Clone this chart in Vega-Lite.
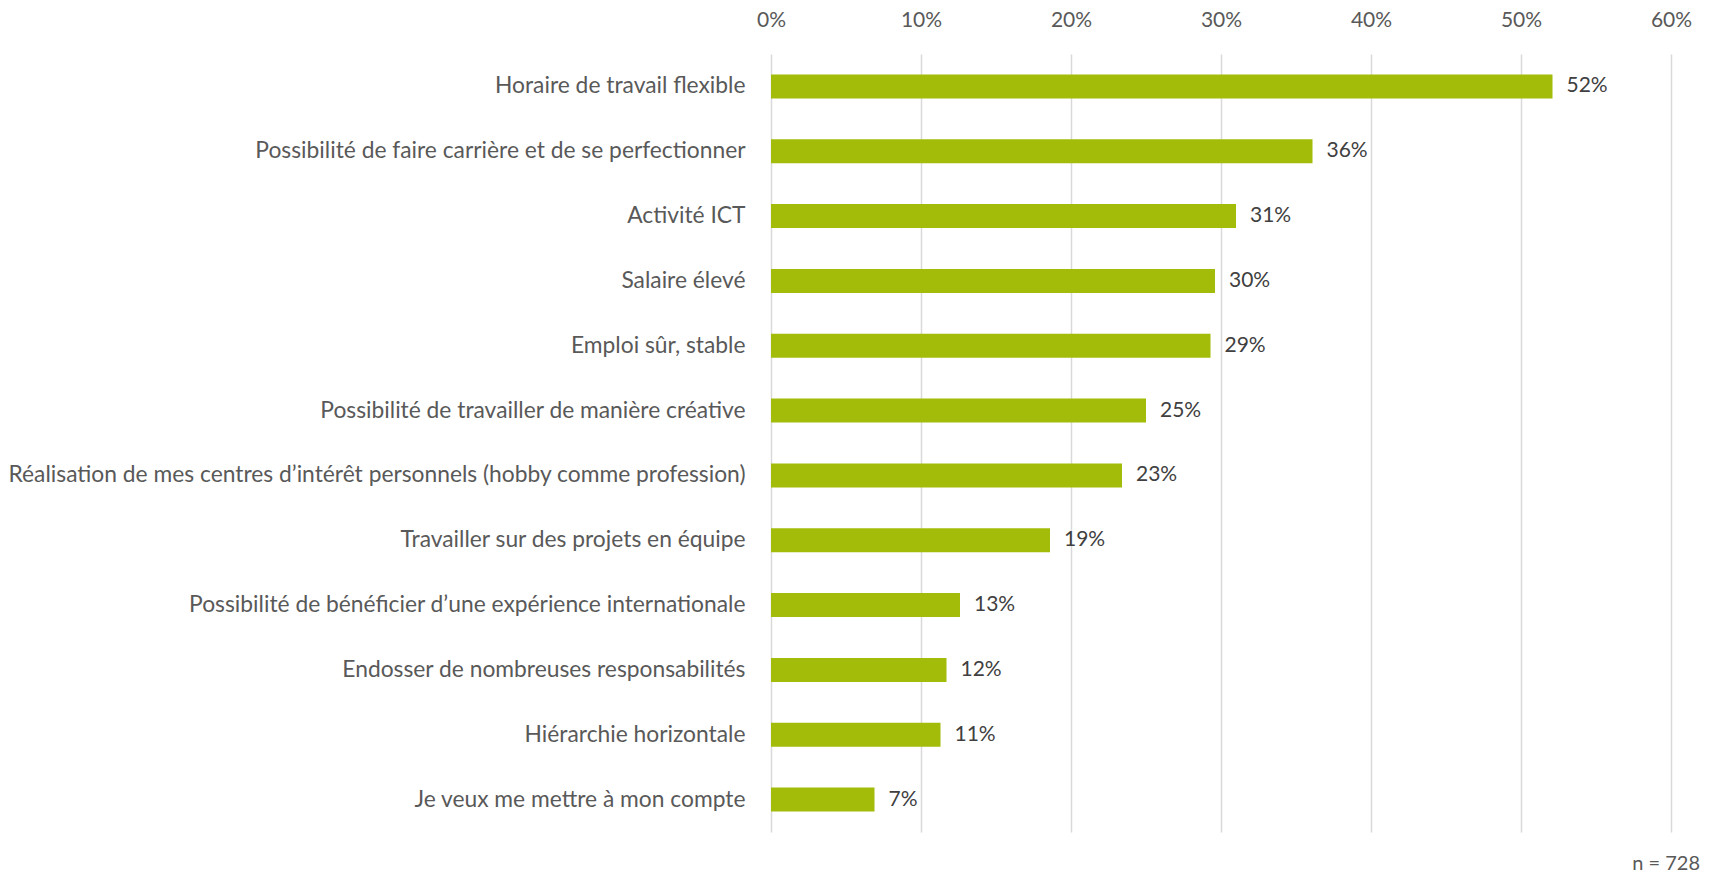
{
  "$schema": "https://vega.github.io/schema/vega-lite/v6.json",
  "autosize": {"type": "none"},
  "width": 900,
  "height": 778,
  "padding": {"left": 771, "top": 54, "right": 38, "bottom": 45},
  "background": "white",
  "config": {
    "view": {"stroke": null},
    "font": "Lato"
  },
  "title": {
    "text": "n = 728",
    "orient": "bottom",
    "anchor": "end",
    "frame": "group",
    "dx": 29,
    "offset": 22,
    "fontSize": 20,
    "fontWeight": "normal",
    "color": "#595959",
    "font": "Lato"
  },
  "data": {
    "values": [
      {"item": "Horaire de travail flexible", "value": 0.521},
      {"item": "Possibilité de faire carrière et de se perfectionner", "value": 0.361},
      {"item": "Activité ICT", "value": 0.310},
      {"item": "Salaire élevé", "value": 0.296},
      {"item": "Emploi sûr, stable", "value": 0.293},
      {"item": "Possibilité de travailler de manière créative", "value": 0.250},
      {"item": "Réalisation de mes centres d’intérêt personnels (hobby comme profession)", "value": 0.234},
      {"item": "Travailler sur des projets en équipe", "value": 0.186},
      {"item": "Possibilité de bénéficier d’une expérience internationale", "value": 0.126},
      {"item": "Endosser de nombreuses responsabilités", "value": 0.117},
      {"item": "Hiérarchie horizontale", "value": 0.113},
      {"item": "Je veux me mettre à mon compte", "value": 0.069}
    ]
  },
  "encoding": {
    "y": {
      "field": "item",
      "type": "nominal",
      "sort": null,
      "scale": {"paddingInner": 0.63, "paddingOuter": 0.315},
      "axis": {
        "title": null,
        "domain": false,
        "ticks": false,
        "labelPadding": 26,
        "labelFontSize": 22.8,
        "labelColor": "#595959",
        "labelFont": "Lato",
        "labelLimit": 800
      }
    },
    "x": {
      "field": "value",
      "type": "quantitative",
      "scale": {"domain": [0, 0.6], "nice": false},
      "axis": {
        "orient": "top",
        "title": null,
        "format": ".0%",
        "values": [0, 0.1, 0.2, 0.3, 0.4, 0.5, 0.6],
        "domain": false,
        "ticks": false,
        "grid": true,
        "gridColor": "#D9D9D9",
        "gridWidth": 1.5,
        "labelFlush": false,
        "labelPadding": 24,
        "labelFontSize": 21,
        "labelColor": "#595959",
        "labelFont": "Lato"
      }
    }
  },
  "layer": [
    {
      "mark": {"type": "bar", "color": "#A3BC09"}
    },
    {
      "mark": {"type": "text", "align": "left", "baseline": "middle", "dx": 14, "fontSize": 21, "color": "#404040", "font": "Lato"},
      "encoding": {
        "text": {"field": "value", "type": "quantitative", "format": ".0%"}
      }
    }
  ]
}
